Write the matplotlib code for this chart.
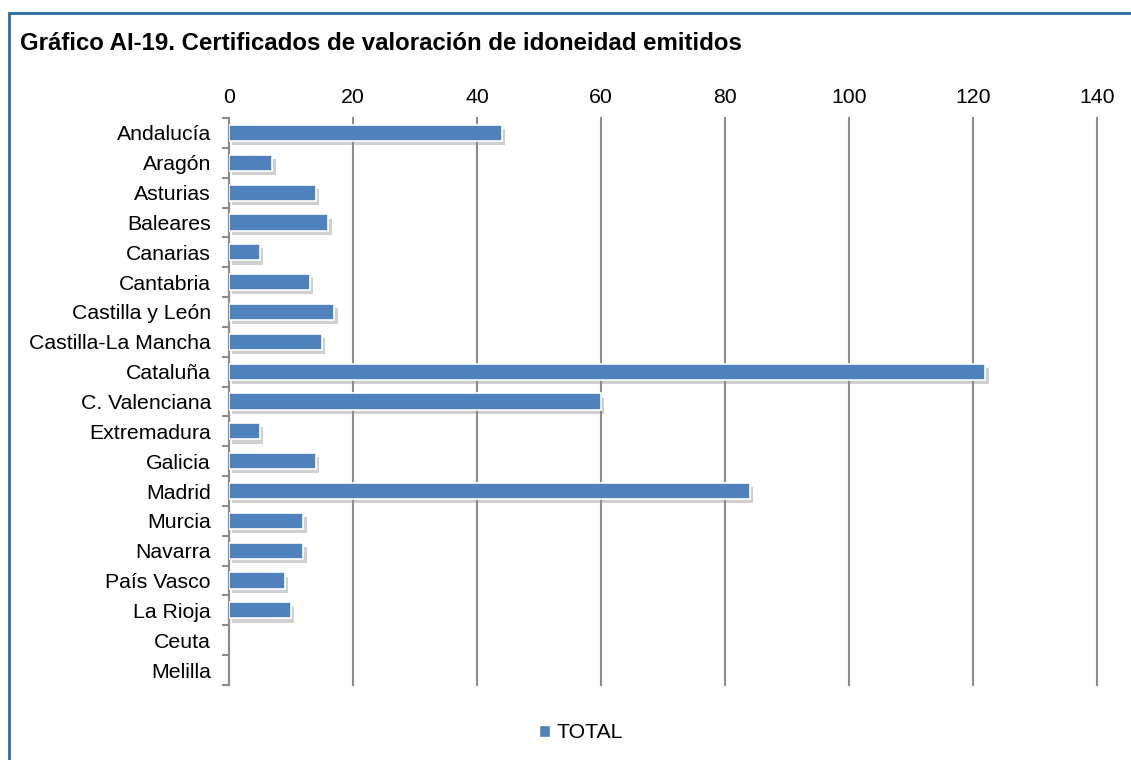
import matplotlib
matplotlib.use("Agg")
import matplotlib.pyplot as plt
import matplotlib.patheffects as pe
from matplotlib.patches import Rectangle, Patch
import numpy as np

plt.rcParams['font.family'] = ['Liberation Sans', 'DejaVu Sans']

title = "Gráfico AI-19. Certificados de valoración de idoneidad emitidos"
regions = ["Andalucía", "Aragón", "Asturias", "Baleares", "Canarias", "Cantabria",
           "Castilla y León", "Castilla-La Mancha", "Cataluña", "C. Valenciana",
           "Extremadura", "Galicia", "Madrid", "Murcia", "Navarra", "País Vasco",
           "La Rioja", "Ceuta", "Melilla"]
total = [44, 7, 14, 16, 5, 13, 17, 15, 122, 60, 5, 14, 84, 12, 12, 9, 10, 0, 0]
x_ticks = [0, 20, 40, 60, 80, 100, 120, 140]
series_name = "TOTAL"

BAR = "#4F81BD"
GRID = "#8C8C8C"
FRAME = "#2A6BAE"

W, H = 1131, 760
fig = plt.figure(figsize=(W / 100, H / 100), dpi=100)

# outer frame (open at the right and bottom edges)
fig.add_artist(Rectangle((9 / W, -0.05), 1.2, 1 - 13 / H + 0.05,
                         transform=fig.transFigure, fill=False,
                         edgecolor=FRAME, linewidth=2))

fig.text(20 / W, 1 - 44 / H, title, fontsize=17.3, fontweight='bold',
         ha='left', va='center', color='black')

ax = fig.add_axes([229 / W, 1 - 685 / H, (1097 - 229) / W, (685 - 118) / H])

y = np.arange(len(regions))
bars = ax.barh(y, total, height=0.54, color=BAR, edgecolor='white',
               linewidth=1.2, zorder=3, label=series_name)
for b, v in zip(bars, total):
    if v > 0:
        b.set_path_effects([pe.SimplePatchShadow(offset=(2.5, -3),
                                                 shadow_rgbFace='#8a8a8a', alpha=0.4),
                            pe.Normal()])
    else:
        b.set_visible(False)

ax.set_xlim(0, 140)
ax.set_ylim(len(regions) - 0.5, -0.5)
ax.set_xticks(x_ticks)
ax.xaxis.tick_top()
ax.tick_params(axis='x', length=0, pad=8, labelsize=15.3)
for gl in ax.get_xgridlines():
    gl.set_clip_on(False)
ax.grid(axis='x', color=GRID, linewidth=1.5, zorder=0)
for gl in ax.get_xgridlines():
    gl.set_clip_on(False)

ax.set_yticks(y)
ax.set_yticklabels(regions)
ax.set_yticks(np.arange(len(regions) + 1) - 0.5, minor=True)
ax.tick_params(axis='y', which='major', length=0, pad=13, labelsize=15.3)
ax.tick_params(axis='y', which='minor', length=5, width=1.5, color=GRID)

for s in ['top', 'right', 'bottom']:
    ax.spines[s].set_visible(False)
ax.spines['left'].set_color(GRID)
ax.spines['left'].set_linewidth(1.5)

fig.legend(handles=[Patch(facecolor=BAR, edgecolor='white', label=series_name)],
           loc='center', bbox_to_anchor=(581 / W, 1 - 733 / H), frameon=False,
           fontsize=15.3, handlelength=0.55, handleheight=0.55, handletextpad=0.3)

fig.savefig("out.png", dpi=100, facecolor='white')
